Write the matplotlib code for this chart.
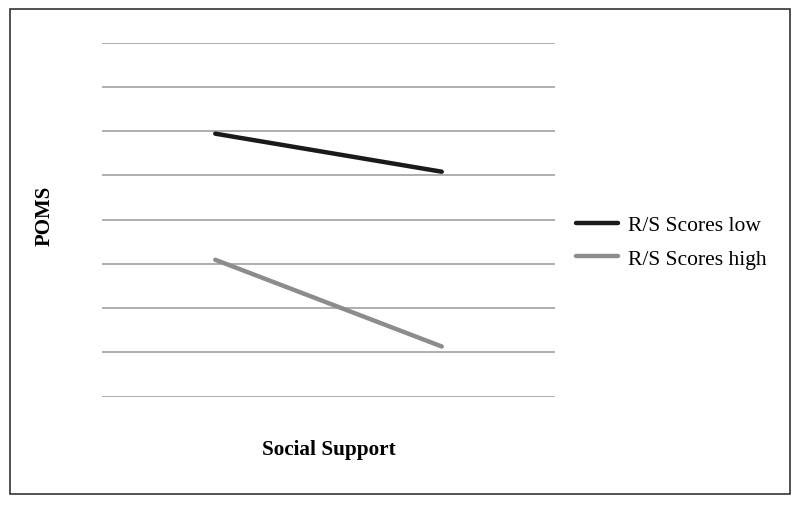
import matplotlib.pyplot as plt
from matplotlib.patches import Rectangle

plt.rcParams['font.family'] = ['Liberation Serif', 'DejaVu Serif']

# social support levels (low, high) on a 0..4 axis
support_x = [1, 3]
low_scores = [5.94, 5.08]
high_scores = [3.09, 1.13]
series_names = ["R/S Scores low", "R/S Scores high"]
grid_levels = list(range(0, 9))

fig = plt.figure(figsize=(8, 5.06), dpi=100)
ax = fig.add_axes([102 / 800, 1 - 397.5 / 506, 453 / 800, 354 / 506])

for g in grid_levels:
    ax.axhline(g, color="#999999", linewidth=1.1, zorder=1)

ax.plot(support_x, low_scores, color="#1a1a1a", linewidth=3.2,
        solid_capstyle="round", label=series_names[0], zorder=3)
ax.plot(support_x, high_scores, color="#8c8c8c", linewidth=3.2,
        solid_capstyle="round", label=series_names[1], zorder=3)

ax.set_xlim(0, 4)
ax.set_ylim(0, 8)
ax.set_xticks([])
ax.set_yticks([])
for s in ax.spines.values():
    s.set_visible(False)

fig.text(329 / 800, 1 - 450 / 506, "Social Support", ha="center", va="center",
         fontsize=15.3, fontweight="bold")
fig.text(45 / 800, 1 - 216 / 506, "POMS", ha="center", va="center",
         rotation=90, fontsize=15, fontweight="bold")

fig.legend(loc="center left", bbox_to_anchor=(576 / 800, 1 - 243 / 506),
           frameon=False, fontsize=15.5, handlelength=1.95, handletextpad=0.46,
           labelspacing=0.63, borderpad=0, borderaxespad=0)

fig.patches.append(Rectangle((10 / 800, 1 - 495 / 506), 780 / 800, 485 / 506,
                             transform=fig.transFigure, fill=False,
                             edgecolor="#333333", linewidth=1.2))

fig.savefig("out.png", dpi=100)
